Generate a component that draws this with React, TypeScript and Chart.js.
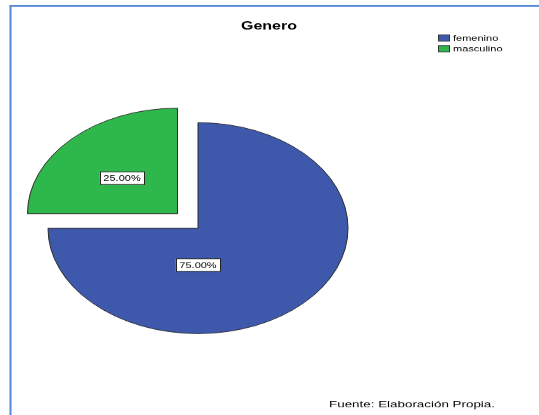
import React, { useEffect, useRef } from "react";
import { Chart, registerables } from "chart.js";

Chart.register(...registerables);

const chartTitle = "Genero";
const categories = ["femenino", "masculino"];
const percentValues = [75, 25];
const sliceColors = ["#3E58AB", "#2EB74B"];
const explodedSlice = [0, 116];
const footerText = "Fuente: Elaboración Propia.";

const W = 539;
const H_VIS = 415;
const H = 590;
const SY = H_VIS / H;

const decorPlugin = {
  id: "spssDecor",
  afterDatasetsDraw(chart: any) {
    const ctx = chart.ctx as CanvasRenderingContext2D;
    const meta = chart.getDatasetMeta(0);
    meta.data.forEach((arc: any, i: number) => {
      const p = arc.getProps(["x", "y", "startAngle", "endAngle", "outerRadius"], true);
      const mid = (p.startAngle + p.endAngle) / 2;
      const off = (explodedSlice[i] || 0) / 4;
      const cx = p.x + Math.cos(mid) * off;
      const cy = p.y + Math.sin(mid) * off;
      const big = p.endAngle - p.startAngle > Math.PI;
      const ang = big ? Math.PI / 2 : mid - 0.047;
      const fr = big ? 0.35 : 0.5;
      const lx = cx + Math.cos(ang) * p.outerRadius * fr;
      const ly = cy + Math.sin(ang) * p.outerRadius * fr;
      const txt = percentValues[i].toFixed(2) + "%";
      ctx.save();
      ctx.font = "11px 'Liberation Sans', Arial, sans-serif";
      const tw = ctx.measureText(txt).width;
      const bw = tw + 7;
      const bh = 18;
      ctx.fillStyle = "#ffffff";
      ctx.fillRect(lx - bw / 2, ly - bh / 2, bw, bh);
      ctx.strokeStyle = "#222222";
      ctx.lineWidth = 1;
      ctx.strokeRect(Math.round(lx - bw / 2) + 0.5, ly - bh / 2, Math.round(bw), bh);
      ctx.fillStyle = "#000000";
      ctx.textAlign = "center";
      ctx.textBaseline = "middle";
      ctx.fillText(txt, lx, ly + 1);
      ctx.restore();
    });
  },
  afterDraw(chart: any) {
    const ctx = chart.ctx as CanvasRenderingContext2D;
    ctx.save();
    // frame lines
    ctx.strokeStyle = "#5589D8";
    ctx.lineWidth = 2;
    ctx.beginPath();
    ctx.moveTo(10.5, H);
    ctx.lineTo(10.5, 8.3);
    ctx.stroke();
    ctx.lineWidth = 2.8;
    ctx.beginPath();
    ctx.moveTo(9.5, 8.3);
    ctx.lineTo(W, 8.3);
    ctx.stroke();
    // title
    ctx.fillStyle = "#000000";
    ctx.font = "bold 16px 'Liberation Sans', Arial, sans-serif";
    ctx.textAlign = "center";
    ctx.textBaseline = "alphabetic";
    ctx.fillText(chartTitle, 269, 41.7);
    // legend
    ctx.font = "11px 'Liberation Sans', Arial, sans-serif";
    ctx.textAlign = "left";
    ctx.textBaseline = "middle";
    categories.forEach((c, i) => {
      const yc = 54 + i * 15.3;
      ctx.fillStyle = sliceColors[i];
      ctx.fillRect(438, yc - 4.5, 12, 9);
      ctx.strokeStyle = "#333333";
      ctx.lineWidth = 1;
      ctx.strokeRect(438.5, yc - 4.5, 11, 9);
      ctx.fillStyle = "#000000";
      ctx.fillText(c, 453, yc + 0.5);
    });
    // footer
    ctx.font = "13.4px 'Liberation Sans', Arial, sans-serif";
    ctx.textBaseline = "alphabetic";
    ctx.fillText(footerText, 329, 578.5);
    ctx.restore();
  },
};

export default function App() {
  const ref = useRef<HTMLCanvasElement | null>(null);
  useEffect(() => {
    document.body.style.margin = "0";
    const canvas = ref.current!;
    const chart = new Chart(canvas, {
      type: "pie",
      data: {
        labels: categories,
        datasets: [
          {
            data: percentValues,
            backgroundColor: sliceColors,
            borderColor: "#2a2a2a",
            borderWidth: 1,
            offset: explodedSlice,
            clip: false as any,
          },
        ],
      },
      options: {
        responsive: false,
        animation: false,
        devicePixelRatio: 1,
        radius: 150,
        layout: { padding: { left: 0, right: 143, top: 58.6, bottom: 0 } },
        plugins: {
          legend: { display: false },
          title: { display: false },
          tooltip: { enabled: false },
        },
        events: [],
      } as any,
      plugins: [decorPlugin],
    });
    return () => chart.destroy();
  }, []);
  return (
    <div
      style={{
        position: "fixed",
        left: 0,
        top: 0,
        width: W,
        height: H_VIS,
        overflow: "hidden",
        background: "#ffffff",
      }}
    >
      <canvas
        ref={ref}
        width={W}
        height={H}
        style={{
          display: "block",
          transform: `scaleY(${SY})`,
          transformOrigin: "0 0",
        }}
      />
    </div>
  );
}
